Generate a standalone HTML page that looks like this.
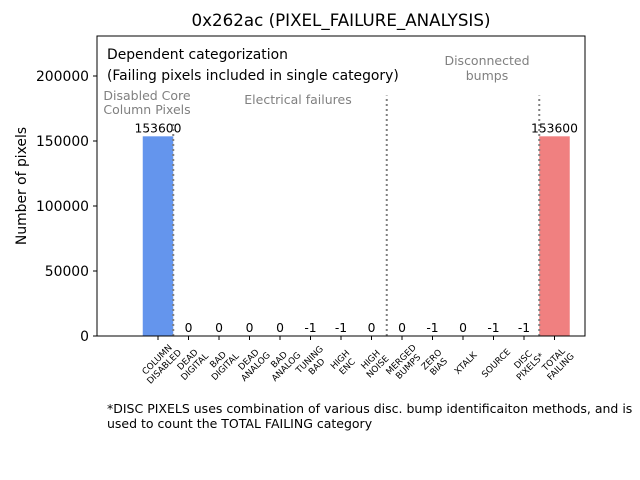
<!DOCTYPE html>
<html><head><meta charset="utf-8"><style>
html,body{margin:0;padding:0;background:#fff;}
svg{display:block;font-family:"DejaVu Sans","Liberation Sans",sans-serif;}
</style></head><body>
<svg id="chart" width="640" height="480" xmlns="http://www.w3.org/2000/svg">
<text x="341" y="26" font-size="16.7" text-anchor="middle">0x262ac (PIXEL_FAILURE_ANALYSIS)</text>
<text transform="translate(26,186) rotate(-90)" font-size="13.9" text-anchor="middle">Number of pixels</text>
<g id="plot"></g>
<rect x="97" y="36" width="488" height="300" fill="none" stroke="#000" stroke-width="1"/>
<text x="107" y="59" font-size="13.9">Dependent categorization</text>
<text x="107" y="80" font-size="13.9">(Failing pixels included in single category)</text>
<text x="147" y="100" font-size="12.5" fill="#808080" text-anchor="middle">Disabled Core</text>
<text x="147" y="114" font-size="12.5" fill="#808080" text-anchor="middle">Column Pixels</text>
<text x="298" y="104" font-size="12.5" fill="#808080" text-anchor="middle">Electrical failures</text>
<text x="487" y="65" font-size="12.5" fill="#808080" text-anchor="middle">Disconnected</text>
<text x="487" y="80" font-size="12.5" fill="#808080" text-anchor="middle">bumps</text>
<text x="107" y="413" font-size="12.5">*DISC PIXELS uses combination of various disc. bump identificaiton methods, and is</text>
<text x="107" y="428" font-size="12.5">used to count the TOTAL FAILING category</text>
</svg>
<script>
const categories=[["COLUMN","DISABLED"],["DEAD","DIGITAL"],["BAD","DIGITAL"],["DEAD","ANALOG"],["BAD","ANALOG"],["TUNING","BAD"],["HIGH","ENC"],["HIGH","NOISE"],["MERGED","BUMPS"],["ZERO","BIAS"],["XTALK"],["SOURCE"],["DISC","PIXELS*"],["TOTAL","FAILING"]];
const values=[153600,0,0,0,0,-1,-1,0,0,-1,0,-1,-1,153600];
const barColors=["#6495ed","#6495ed","#6495ed","#6495ed","#6495ed","#6495ed","#6495ed","#6495ed","#6495ed","#6495ed","#6495ed","#6495ed","#6495ed","#f08080"];
const yTicks=[0,50000,100000,150000,200000];
const dividerPos=[0.5,7.5,12.5];
const dividerTop=[165000,185000,185000];

const NS="http://www.w3.org/2000/svg";
const g=document.getElementById('plot');
const X0=97,X1=585,Y0=336,Y1=36,XMIN=-2,XMAX=14,YMIN=0,YMAX=230769;
function x(v){return X0+(v-XMIN)/(XMAX-XMIN)*(X1-X0);}
function y(v){return Y0-(v-YMIN)/(YMAX-YMIN)*(Y0-Y1);}
function el(t,a){const e=document.createElementNS(NS,t);for(const k in a)e.setAttribute(k,a[k]);g.appendChild(e);return e;}
const bw=x(1)-x(0);
values.forEach((v,i)=>{
  const top=Math.min(y(v),y(0)),h=Math.abs(y(v)-y(0));
  const r=el('rect',{x:x(i)-bw/2,y:top,width:bw,height:h,fill:barColors[i]});
  
  
  const t=el('text',{x:x(i),y:y(Math.max(v,0))-4,'font-size':12.3,'text-anchor':'middle'});
  t.textContent=String(v);
  
  
  const tk=el('line',{x1:x(i),x2:x(i),y1:Y0,y2:Y0+4,stroke:'#000'});
  
  
  const lb=el('text',{'font-size':8.8,'text-anchor':'middle',transform:'translate('+(x(i)+2.5)+',363) rotate(-45)'});
  
  
  const lines=categories[i];
  lines.forEach((s,j)=>{const ts=document.createElementNS(NS,'tspan');ts.setAttribute('x',0);ts.setAttribute('y',(j-(lines.length-1)/2)*10+3);ts.textContent=s;lb.appendChild(ts);});
});
dividerPos.forEach((p,i)=>{
  const l=el('line',{x1:x(p),x2:x(p),y1:y(0),y2:y(dividerTop[i]),stroke:'#808080','stroke-width':2,'stroke-dasharray':'2,3'});
  
  
});
yTicks.forEach(v=>{
  const tk=el('line',{x1:X0-4,x2:X0,y1:y(v),y2:y(v),stroke:'#000'});
  
  
  const t=el('text',{x:X0-8,y:y(v)+5,'font-size':13.9,'text-anchor':'end'});
  t.textContent=String(v);
  
  
});
</script>
</body></html>
